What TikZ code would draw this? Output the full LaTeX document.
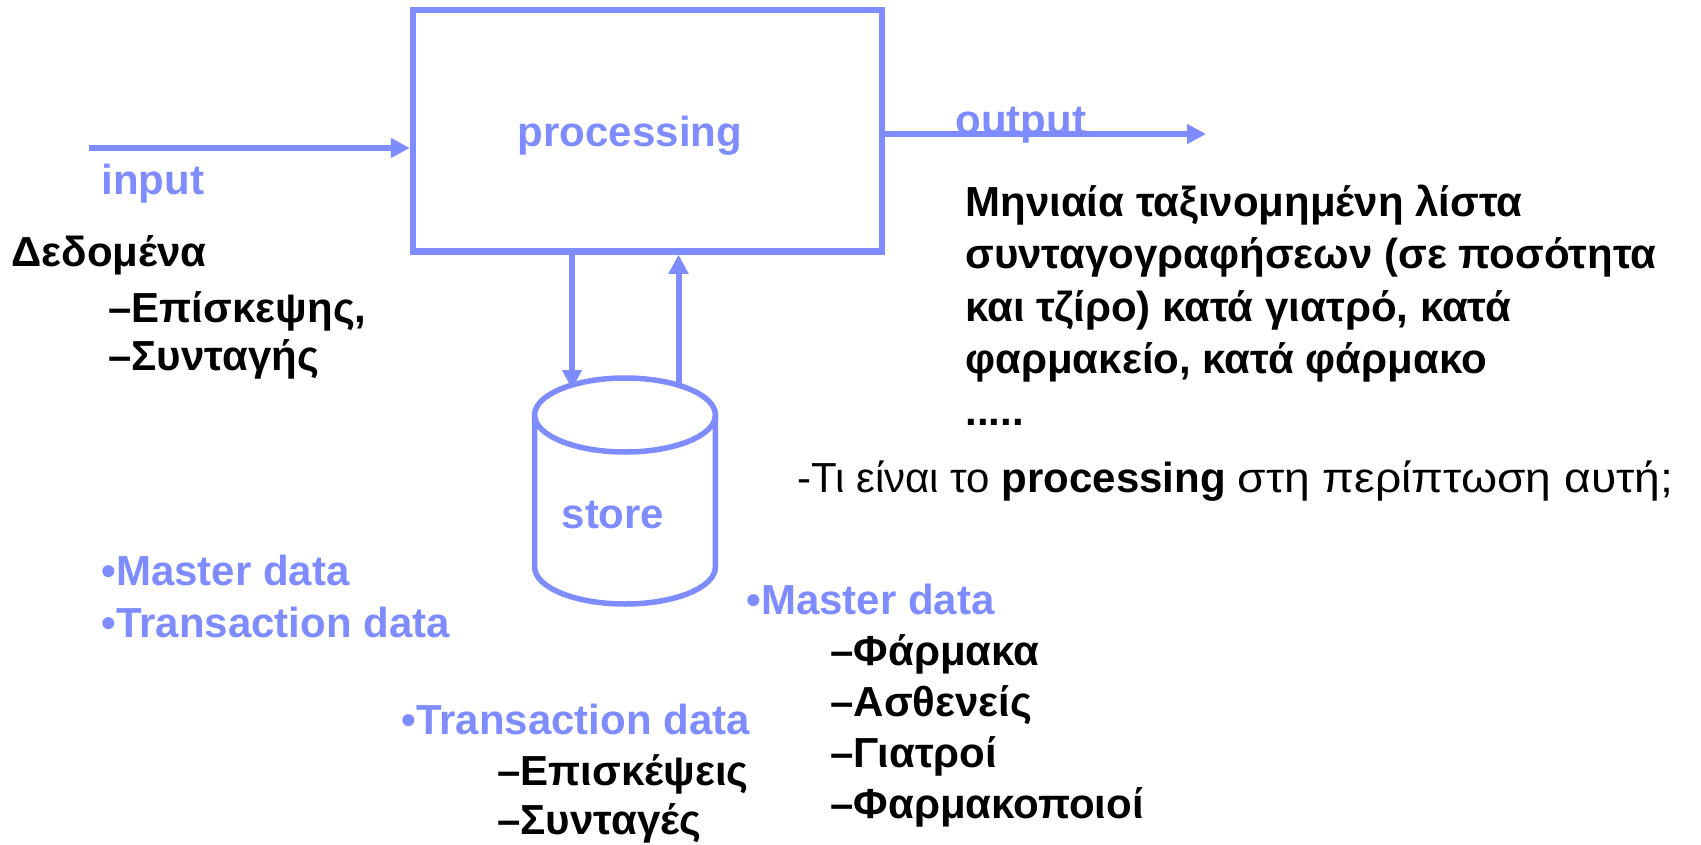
\documentclass[tikz,border=0pt]{standalone}
\usepackage{fontspec}
\setmainfont{Liberation Sans}
\usetikzlibrary{arrows.meta}
\definecolor{pblue}{RGB}{126,140,255}
\begin{document}
\begin{tikzpicture}[x=0.5pt,y=-0.5pt,
  txt/.style={anchor=base west,inner sep=0pt,font=\fontsize{21}{25}\selectfont},
  btxt/.style={txt,font=\fontsize{21}{25}\selectfont\bfseries},
  bluetxt/.style={btxt,text=pblue},
  procbox/.style={draw=pblue,line width=3.25pt,minimum width=234.5pt,minimum height=120.75pt,inner sep=0pt},
  flow/.style={draw=pblue,line width=3pt,-{Triangle[length=9.5pt,width=9.5pt]}},
  cyl/.style={draw=pblue,line width=2.75pt}]
\useasboundingbox (0,0) rectangle (1701,845);
% processing box
\node[procbox] (proc) at (647.5,130.75) {};
\node[bluetxt,anchor=base] (proclabel) at (630,147) {processing};
% input / output
\coordinate (inp) at (89,148);
\coordinate (outp) at (1206,134);
\node[bluetxt] (inlabel) at (101,195) {input};
\node[bluetxt] (outlabel) at (955,135) {output};
\draw[flow] (inp) -- (inp -| proc.west);
\draw[flow] (proc.east |- outp) -- (outp);
% store cylinder
\draw[cyl] (625,415) ellipse [x radius=90.4,y radius=37];
\draw[cyl] (534.6,415) -- (534.6,567) arc[start angle=180,end angle=0,x radius=90.4,y radius=37] -- (715.4,415);
\node[bluetxt,anchor=base] (store) at (613,528) {store};
\coordinate (cdn) at (572,389);
\coordinate (cup) at (678.5,385);
\draw[flow] (proc.south -| cdn) -- (cdn);
\draw[flow] (cup) -- (cup |- proc.south);
% left texts
\node[btxt] (ded) at (11,266) {Δεδομένα};
\node[btxt] (ded1) at (108,322) {–Επίσκεψης,};
\node[btxt] (ded2) at (108,370) {–Συνταγής};
\node[bluetxt] (lm) at (101,585) {•Master data};
\node[bluetxt] (lt) at (101,637) {•Transaction data};
% right paragraph
\node[btxt] (p1) at (965,217) {Μηνιαία ταξινομημένη λίστα};
\node[btxt] (p2) at (965,269) {συνταγογραφήσεων (σε ποσότητα};
\node[btxt] (p3) at (965,321) {και τζίρο) κατά γιατρό, κατά};
\node[btxt] (p4) at (965,373) {φαρμακείο, κατά φάρμακο};
\node[btxt] (p5) at (965,425) {.....};
\node[txt] (q) at (797,492) {-Τι είναι το \textbf{processing} {\addfontfeatures{FakeStretch=1.1}στη περίπτωση αυτή;}};
% master data right
\node[bluetxt] (rm) at (746,614) {•Master data};
\node[btxt] (rm1) at (830,665) {–Φάρμακα};
\node[btxt] (rm2) at (830,716) {–Ασθενείς};
\node[btxt] (rm3) at (830,767) {–Γιατροί};
\node[btxt] (rm4) at (830,818) {–Φαρμακοποιοί};
% transaction data lower
\node[bluetxt] (tt) at (401,734) {•Transaction data};
\node[btxt] (tt1) at (497,785) {–Επισκέψεις};
\node[btxt] (tt2) at (497,834) {–Συνταγές};
\end{tikzpicture}
\end{document}
